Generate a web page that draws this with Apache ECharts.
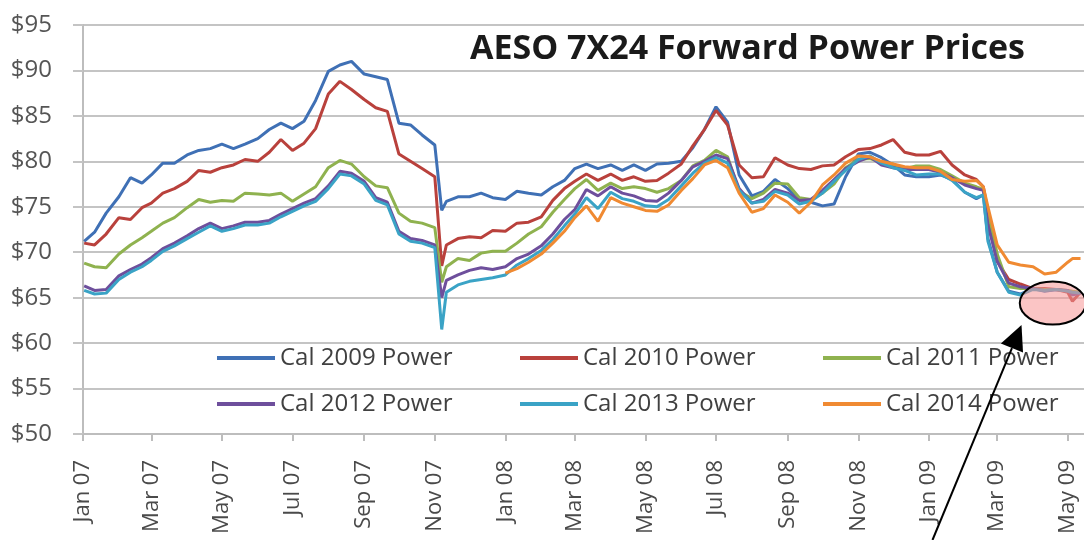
<!DOCTYPE html>
<html>
<head>
<meta charset="utf-8">
<title>AESO 7X24 Forward Power Prices</title>
<script src="https://cdn.jsdelivr.net/npm/echarts@6/dist/echarts.min.js"></script>
<style>
  html, body { margin: 0; padding: 0; background: #fff; }
  #chart { width: 1084px; height: 540px; }
</style>
</head>
<body>
<div id="chart"></div>
<script>
// trading dates sampled roughly every 10 days
const dates = [
  '2007-01-02', '2007-01-11', '2007-01-21', '2007-02-01', '2007-02-11', '2007-02-21',
  '2007-03-01', '2007-03-11', '2007-03-21', '2007-04-01', '2007-04-11', '2007-04-21',
  '2007-05-01', '2007-05-11', '2007-05-21', '2007-06-01', '2007-06-11', '2007-06-21',
  '2007-07-01', '2007-07-11', '2007-07-21', '2007-08-01', '2007-08-11', '2007-08-21',
  '2007-09-01', '2007-09-11', '2007-09-21', '2007-10-01', '2007-10-11', '2007-10-21',
  '2007-11-01', '2007-11-07', '2007-11-11', '2007-11-21', '2007-12-01', '2007-12-11', '2007-12-21',
  '2008-01-01', '2008-01-11', '2008-01-21', '2008-02-01', '2008-02-11', '2008-02-21',
  '2008-03-01', '2008-03-11', '2008-03-21', '2008-04-01', '2008-04-11', '2008-04-21',
  '2008-05-01', '2008-05-11', '2008-05-21', '2008-06-01', '2008-06-11', '2008-06-21',
  '2008-07-01', '2008-07-11', '2008-07-21', '2008-08-01', '2008-08-11', '2008-08-21',
  '2008-09-01', '2008-09-11', '2008-09-21', '2008-10-01', '2008-10-11', '2008-10-21',
  '2008-11-01', '2008-11-11', '2008-11-21', '2008-12-01', '2008-12-11', '2008-12-21',
  '2009-01-01', '2009-01-11', '2009-01-21', '2009-02-01', '2009-02-11', '2009-02-17', '2009-02-21',
  '2009-03-01', '2009-03-11', '2009-03-21', '2009-04-01', '2009-04-11', '2009-04-21',
  '2009-05-01', '2009-05-05', '2009-05-12'
]

const cal2009 = [
  71.2, 72.2, 74.3, 76.1, 78.2, 77.6, 78.5, 79.8, 79.8, 80.7, 81.2, 81.4, 81.9, 81.4, 81.9, 82.5, 83.5, 84.2,
  83.6, 84.4, 86.7, 89.9, 90.6, 91.0, 89.6, 89.3, 89.0, 84.2, 84.0, 82.9, 81.8, 74.6, 75.6, 76.1, 76.1, 76.5, 76.0,
  75.8, 76.7, 76.5, 76.3, 77.2, 77.9, 79.2, 79.7, 79.2, 79.6, 79.0, 79.6, 79.0, 79.7, 79.8, 80.0, 81.5, 83.5,
  86.0, 84.3, 78.5, 76.2, 76.7, 78.0, 77.0, 75.8, 75.5, 75.1, 75.3, 78.3, 80.8, 81.0, 80.4, 79.6, 78.5, 78.3,
  78.3, 78.5, 78.0, 76.6, 75.9, 76.3, 71.5, 67.8, 65.7, 65.4, 66.0, 65.7, 65.9, 65.7, 65.6, 65.5
]
const cal2010 = [
  71.0, 70.8, 72.0, 73.8, 73.6, 74.9, 75.4, 76.5, 77.0, 77.8, 79.0, 78.8, 79.3, 79.6, 80.2, 80.0, 81.0, 82.4,
  81.2, 82.0, 83.6, 87.4, 88.8, 87.9, 86.8, 85.9, 85.5, 80.8, 80.0, 79.2, 78.3, 68.5, 70.8, 71.5, 71.7, 71.6, 72.4,
  72.3, 73.2, 73.3, 73.9, 75.7, 77.0, 77.8, 78.6, 77.9, 78.6, 77.9, 78.3, 77.8, 77.9, 78.7, 79.7, 81.7, 83.5,
  85.6, 84.0, 79.6, 78.2, 78.3, 80.4, 79.6, 79.2, 79.1, 79.5, 79.6, 80.5, 81.3, 81.4, 81.8, 82.4, 81.0, 80.7,
  80.7, 81.1, 79.6, 78.5, 78.0, 77.2, 74.5, 69.0, 67.0, 66.5, 66.0, 66.0, 65.9, 65.6, 64.6, 65.6
]
const cal2011 = [
  68.8, 68.4, 68.3, 69.8, 70.8, 71.6, 72.3, 73.2, 73.8, 74.9, 75.8, 75.5, 75.7, 75.6, 76.5, 76.4, 76.3, 76.5,
  75.6, 76.4, 77.2, 79.3, 80.1, 79.7, 78.3, 77.3, 77.1, 74.3, 73.4, 73.2, 72.7, 66.7, 68.4, 69.3, 69.1, 69.9, 70.1,
  70.1, 71.0, 72.0, 72.8, 74.4, 75.8, 77.0, 78.0, 76.8, 77.6, 77.0, 77.2, 77.0, 76.6, 77.0, 77.9, 79.5, 80.1,
  81.2, 80.5, 76.7, 75.9, 76.5, 77.6, 77.5, 76.0, 75.8, 76.5, 77.5, 79.3, 80.2, 80.3, 79.9, 79.7, 79.2, 79.5,
  79.5, 79.1, 78.4, 77.6, 77.2, 76.9, 74.5, 69.8, 66.2, 66.0, 66.0, 65.9, 65.9, 65.8, 65.7, 65.6
]
const cal2012 = [
  66.3, 65.8, 65.9, 67.4, 68.1, 68.7, 69.4, 70.4, 71.0, 71.8, 72.6, 73.2, 72.6, 72.9, 73.3, 73.3, 73.5, 74.2,
  74.8, 75.4, 75.9, 77.3, 78.9, 78.7, 77.8, 76.0, 75.5, 72.3, 71.5, 71.3, 70.8, 65.0, 66.9, 67.5, 68.0, 68.3, 68.1,
  68.4, 69.3, 69.8, 70.7, 72.0, 73.6, 74.7, 76.9, 76.2, 77.2, 76.5, 76.2, 75.7, 75.6, 76.5, 77.9, 79.4, 80.0,
  80.7, 80.3, 77.0, 75.4, 75.8, 76.9, 76.5, 75.7, 75.8, 76.8, 78.0, 79.2, 80.0, 80.5, 79.6, 79.3, 79.1, 79.1,
  79.1, 78.8, 78.2, 77.4, 77.0, 76.8, 73.0, 69.0, 66.6, 66.2, 66.0, 65.8, 65.9, 65.8, 65.3, 65.5
]
const cal2013 = [
  65.8, 65.4, 65.5, 67.0, 67.8, 68.4, 69.1, 70.1, 70.7, 71.5, 72.2, 72.9, 72.3, 72.6, 73.0, 73.0, 73.2, 73.9,
  74.5, 75.1, 75.6, 77.0, 78.6, 78.4, 77.5, 75.7, 75.2, 72.0, 71.2, 71.0, 70.5, 61.5, 65.6, 66.4, 66.8, 67.0, 67.2,
  67.5, 68.6, 69.3, 70.2, 71.4, 72.9, 74.2, 76.0, 74.8, 76.6, 75.9, 75.6, 75.1, 75.0, 75.8, 77.3, 78.7, 79.8,
  80.4, 79.8, 76.8, 75.4, 75.6, 76.7, 76.3, 75.3, 75.6, 76.5, 77.8, 79.0, 80.2, 80.6, 79.8, 79.3, 79.0, 78.5,
  78.6, 78.6, 77.9, 76.6, 76.0, 76.3, 71.2, 67.8, 65.6, 65.3, 65.9, 65.8, 65.9, 65.7, 65.6, 65.5
]
// Cal 2014 only starts trading in Jan 08
const cal2014 = [
  null, null, null, null, null, null, null, null, null, null, null, null, null, null, null, null, null, null,
  null, null, null, null, null, null, null, null, null, null, null, null, null, null, null, null, null, null, null,
  67.7, 68.2, 68.9, 69.8, 71.0, 72.3, 73.8, 75.1, 73.4, 76.0, 75.4, 75.0, 74.6, 74.5, 75.2, 76.8, 78.1, 79.6,
  80.1, 79.3, 76.5, 74.4, 74.8, 76.3, 75.5, 74.3, 75.5, 77.4, 78.5, 79.8, 80.6, 80.5, 80.0, 79.7, 79.4, 79.3,
  79.3, 78.9, 78.0, 77.8, 77.9, 77.2, 75.0, 70.8, 68.9, 68.6, 68.4, 67.6, 67.8, 68.9, 69.3, 69.3
]

const seriesNames = ['Cal 2009 Power', 'Cal 2010 Power', 'Cal 2011 Power', 'Cal 2012 Power', 'Cal 2013 Power', 'Cal 2014 Power']
const seriesValues = [cal2009, cal2010, cal2011, cal2012, cal2013, cal2014]

const tickDates = [
  '2007-01-01', '2007-03-01', '2007-05-01', '2007-07-01', '2007-09-01', '2007-11-01',
  '2008-01-01', '2008-03-01', '2008-05-01', '2008-07-01', '2008-09-01', '2008-11-01',
  '2009-01-01', '2009-03-01', '2009-05-01'
]
const tickLabels = [
  'Jan 07', 'Mar 07', 'May 07', 'Jul 07', 'Sep 07', 'Nov 07',
  'Jan 08', 'Mar 08', 'May 08', 'Jul 08', 'Sep 08', 'Nov 08',
  'Jan 09', 'Mar 09', 'May 09'
]

const colors = ['#3f70b5', '#b9413c', '#8fb24f', '#6e4f9c', '#3aa3c6', '#f08a32']
const font = 'Open Sans'

// dates -> epoch ms, the x axis is a plain value axis on timestamps
const ts = d => echarts.time.parse(d).getTime()
const tickTimes = tickDates.map(ts)

const chart = echarts.init(document.getElementById('chart'))

// two legend rows of three, fixed text width keeps the columns aligned
const legendBase = {
  left: 217,
  orient: 'horizontal',
  icon: 'rect',
  itemWidth: 58,
  itemHeight: 4,
  itemGap: 45,
  padding: 0,
  selectedMode: false,
  textStyle: {
    fontFamily: font,
    fontSize: 24,
    color: '#404040',
    width: 195,
    lineHeight: 28
  }
}

chart.setOption({
  animation: false,
  color: colors,
  title: {
    text: 'AESO 7X24 Forward Power Prices',
    left: 470,
    top: 32,
    padding: 0,
    textStyle: {
      fontFamily: font,
      fontSize: 34,
      fontWeight: 'bold',
      color: '#1a1a1a'
    }
  },
  legend: [
    Object.assign({}, legendBase, { top: 344, data: seriesNames.slice(0, 3) }),
    Object.assign({}, legendBase, { top: 390, data: seriesNames.slice(3) })
  ],
  grid: {
    left: 83,
    right: 0,
    top: 25,
    bottom: 106,
    outerBoundsMode: 'none'
  },
  xAxis: {
    type: 'value',
    min: ts('2007-01-01'),
    max: ts('2009-05-15'),
    axisLine: { lineStyle: { color: '#bdbdbd', width: 2 } },
    axisTick: {
      show: true,
      length: 7,
      customValues: tickTimes,
      lineStyle: { color: '#bdbdbd', width: 2 }
    },
    axisLabel: {
      customValues: tickTimes,
      rotate: 90,
      margin: 26,
      fontFamily: font,
      fontSize: 22,
      color: '#4a4a4a',
      formatter: function (val) {
        let best = 0
        tickTimes.forEach((t, i) => {
          if (Math.abs(t - val) < Math.abs(tickTimes[best] - val)) best = i
        })
        return tickLabels[best]
      }
    },
    splitLine: { show: false }
  },
  yAxis: {
    type: 'value',
    min: 50,
    max: 95,
    interval: 5,
    axisLine: { show: true, lineStyle: { color: '#bdbdbd', width: 2 } },
    axisTick: { show: true, length: 10, lineStyle: { color: '#c4c4c4', width: 2 } },
    axisLabel: {
      margin: 31,
      fontFamily: font,
      fontSize: 24,
      color: '#555555',
      formatter: '${value}'
    },
    splitLine: { lineStyle: { color: '#c4c4c4', width: 2 } }
  },
  series: seriesNames.map((name, k) => ({
    name: name,
    type: 'line',
    symbol: 'none',
    showSymbol: false,
    connectNulls: false,
    lineStyle: { width: 3 },
    data: dates.map((d, i) => [ts(d), seriesValues[k][i]])
  }))
})

// annotation: pink ellipse around the spring 2009 cluster, with a pointer arrow
const centre = chart.convertToPixel({ gridIndex: 0 }, [ts('2009-04-18'), 64.4])
const tip = chart.convertToPixel({ gridIndex: 0 }, [ts('2009-03-22'), 62.0])
const tail = [tip[0] - 89, 540]
const ang = Math.atan2(tip[1] - tail[1], tip[0] - tail[0])
const headLen = 25, headHalf = 12
const base = [tip[0] - headLen * Math.cos(ang), tip[1] - headLen * Math.sin(ang)]
const nx = -Math.sin(ang), ny = Math.cos(ang)

chart.setOption({
  graphic: [
    {
      type: 'ellipse',
      z: 100,
      shape: { cx: centre[0], cy: centre[1], rx: 33, ry: 21.5 },
      style: { fill: 'rgba(248, 150, 150, 0.55)', stroke: '#000', lineWidth: 2 }
    },
    {
      type: 'line',
      z: 100,
      shape: { x1: tail[0], y1: tail[1], x2: base[0], y2: base[1] },
      style: { stroke: '#000', lineWidth: 2 }
    },
    {
      type: 'polygon',
      z: 100,
      shape: {
        points: [
          tip,
          [base[0] + nx * headHalf, base[1] + ny * headHalf],
          [base[0] - nx * headHalf, base[1] - ny * headHalf]
        ]
      },
      style: { fill: '#000' }
    }
  ]
})
</script>
</body>
</html>
